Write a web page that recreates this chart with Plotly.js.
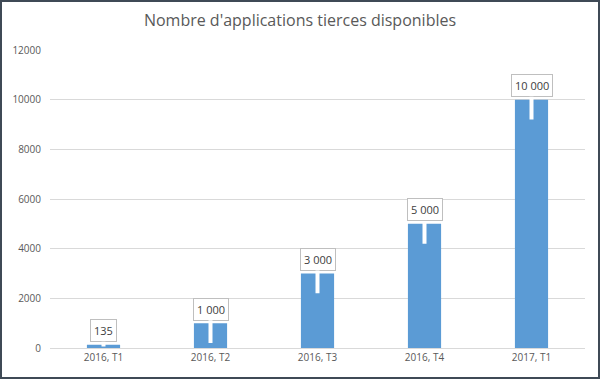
<!DOCTYPE html>
<html><head><meta charset="utf-8">
<script src="https://cdn.plot.ly/plotly-3.0.1.min.js"></script>
<style>
html,body{margin:0;padding:0;background:#fff;}
#frame{width:600px;height:379px;box-sizing:border-box;border:2px solid #3f4a56;overflow:hidden;}
#chart{width:596px;height:375px;}
</style></head>
<body><div id="frame"><div id="chart"></div></div>
<script>
const categories = ["2016, T1", "2016, T2", "2016, T3", "2016, T4", "2017, T1"];
const values = [135, 1000, 3000, 5000, 10000];
const labels = ["135", "1 000", "3 000", "5 000", "10 000"];
const yTicks = [0, 2000, 4000, 6000, 8000, 10000, 12000];

const annotations = categories.map((c, i) => ({
  x: c, y: Math.max(values[i] - 800, 60), xref: 'x', yref: 'y',
  ax: c, ay: values[i] + 560, axref: 'x', ayref: 'y',
  text: labels[i], showarrow: true, arrowhead: 0, arrowwidth: 4, arrowcolor: '#ffffff',
  bgcolor: '#ffffff', bordercolor: '#bfbfbf', borderwidth: 1, borderpad: 3,
  font: {family: 'Open Sans, sans-serif', size: 11, color: '#404040'}
}));

Plotly.newPlot('chart', [{
  type: 'bar', x: categories, y: values,
  marker: {color: '#5b9bd5'}, hoverinfo: 'none'
}], {
  width: 596, height: 375,
  margin: {l: 48, r: 13, t: 48, b: 29},
  paper_bgcolor: '#ffffff', plot_bgcolor: '#ffffff',
  bargap: 0.69,
  showlegend: false,
  title: {text: "Nombre d'applications tierces disponibles", x: 0.5, xanchor: 'center', y: 0.95, yanchor: 'middle',
    font: {family: 'Open Sans, sans-serif', size: 16, color: '#595959'}},
  xaxis: {type: 'category', showgrid: false, showline: true, linecolor: '#d9d9d9', linewidth: 1,
    ticks: '', tickfont: {family: 'Open Sans, sans-serif', size: 10, color: '#595959'}, fixedrange: true},
  yaxis: {range: [0, 12000], tickvals: yTicks, ticktext: yTicks.map(String), showgrid: true,
    gridcolor: '#d9d9d9', gridwidth: 1, zeroline: true, zerolinecolor: '#d9d9d9', showline: false,
    ticks: '', ticklabelstandoff: 8,
    tickfont: {family: 'Open Sans, sans-serif', size: 10, color: '#595959'}, fixedrange: true},
  annotations: annotations
}, {displayModeBar: false, staticPlot: true});
</script></body></html>
